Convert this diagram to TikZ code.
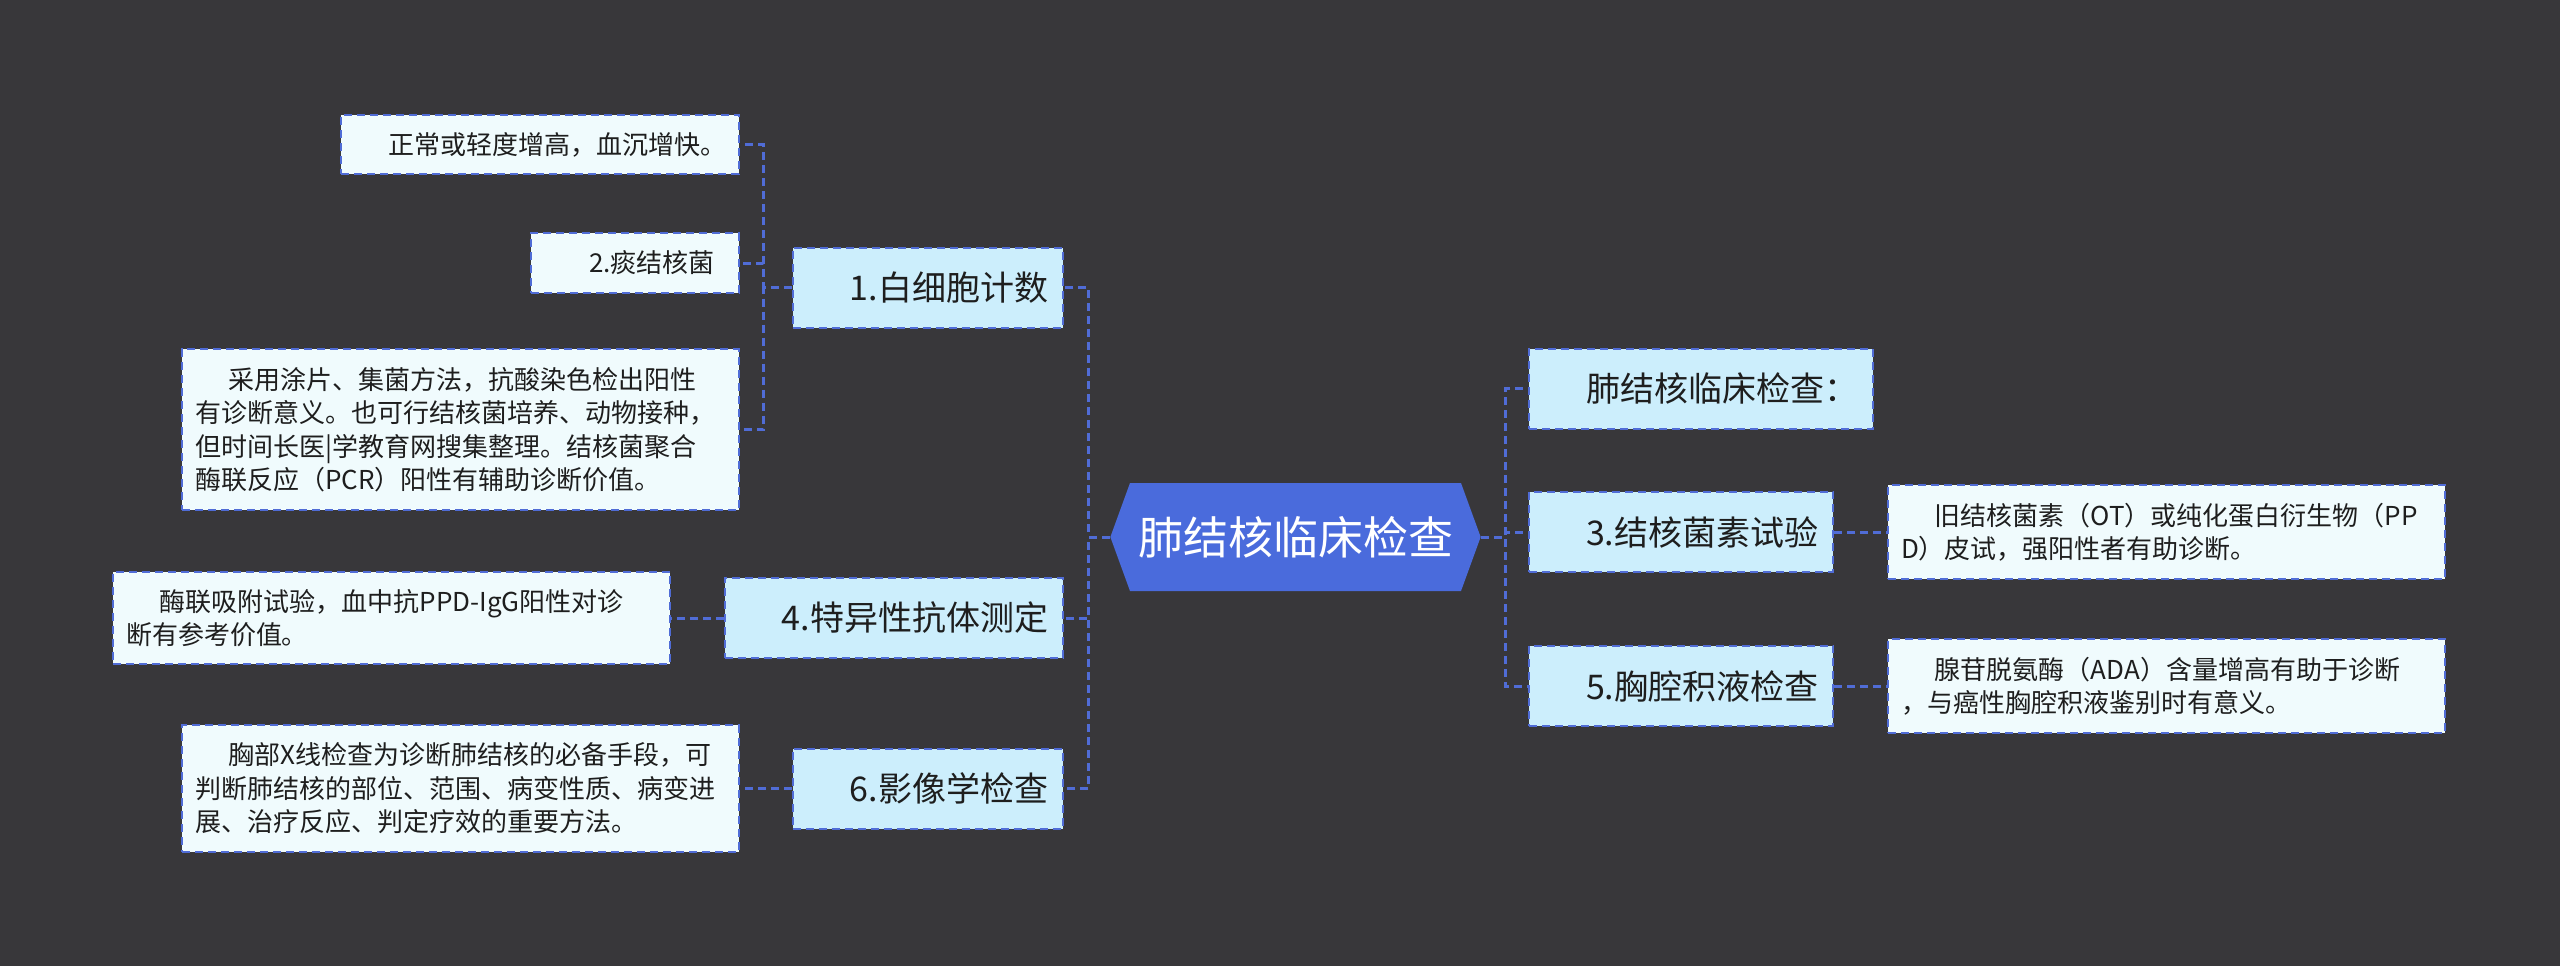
\documentclass[tikz,border=0pt]{standalone}
\usepackage{fontspec}
\setmainfont{Noto Sans CJK SC}
\usetikzlibrary{shapes.symbols}
\definecolor{bgdark}{RGB}{56,55,58}
\definecolor{hubblue}{RGB}{74,107,220}
\definecolor{linkblue}{RGB}{80,108,214}
\definecolor{topicfill}{RGB}{204,238,252}
\definecolor{notefill}{RGB}{240,251,253}
\definecolor{inkdark}{RGB}{30,30,30}

\begin{document}
\begin{tikzpicture}[x=0.5pt,y=-0.5pt,
  hub/.style={shape=signal, signal to=west and east, signal pointer angle=140,
    fill=hubblue, text=white, font=\fontsize{22.5pt}{26pt}\selectfont,
    minimum height=54pt, inner xsep=4pt},
  topic/.style={draw=linkblue, fill=topicfill, line width=1pt, dash pattern=on 4pt off 2.5pt,
    text=inkdark, font=\fontsize{17pt}{20pt}\selectfont, minimum height=40pt,
    inner ysep=0pt, inner xsep=7.5pt, execute at begin node=\hspace*{21pt}},
  note/.style={draw=linkblue, fill=notefill, line width=1pt, dash pattern=on 4pt off 2.5pt,
    text=inkdark, font=\fontsize{13pt}{16.75pt}\selectfont, align=left,
    inner ysep=8.75pt, inner xsep=6.5pt, execute at begin node=\hspace*{1.3em}},
  wide/.style={text width=265.5pt},
  link/.style={draw=linkblue, line width=1.5pt, dash pattern=on 4pt off 2.5pt}]
  \fill[bgdark] (0,0) rectangle (2560,966);
  \useasboundingbox (0,0) rectangle (2560,966);

  \node[hub] (hub) at (1295.5,537) {肺结核临床检查};

  % right side
  \node[topic, anchor=west] (R0) at (1528,388.5) {肺结核临床检查：};
  \node[topic, anchor=west] (R3) at (1528,532) {3.结核菌素试验};
  \node[topic, anchor=west] (R5) at (1528,686) {5.胸腔积液检查};
  \node[note, wide, anchor=west] (n3) at (1887,532)
    {旧结核菌素（OT）或纯化蛋白衍生物（PP\\D）皮试，强阳性者有助诊断。};
  \node[note, wide, anchor=west] (n5) at (1887,686)
    {腺苷脱氨酶（ADA）含量增高有助于诊断\\，与癌性胸腔积液鉴别时有意义。};

  % left side
  \node[topic, anchor=east] (L1) at (1064,287.5) {1.白细胞计数};
  \node[topic, anchor=east] (L4) at (1064,618) {4.特异性抗体测定};
  \node[topic, anchor=east] (L6) at (1064,788.5) {6.影像学检查};
  \node[note, anchor=east] (na) at (740,144.5) {正常或轻度增高，血沉增快。};
  \node[note, anchor=east, minimum width=104pt] (nb) at (740,263) {2.痰结核菌};
  \node[note, wide, anchor=east] (nc) at (740,429.5)
    {采用涂片、集菌方法，抗酸染色检出阳性\\有诊断意义。也可行结核菌培养、动物接种，\\但时间长医|学教育网搜集整理。结核菌聚合\\酶联反应（PCR）阳性有辅助诊断价值。};
  \node[note, wide, anchor=east] (n4) at (671,618)
    {酶联吸附试验，血中抗PPD-IgG阳性对诊\\断有参考价值。};
  \node[note, wide, anchor=east] (n6) at (740,788.5)
    {胸部X线检查为诊断肺结核的必备手段，可\\判断肺结核的部位、范围、病变性质、病变进\\展、治疗反应、判定疗效的重要方法。};

  % connectors
  \foreach \t in {L1,L4,L6}
    \draw[link] (hub.west) -- ++(-21,0) |- (\t.east);
  \foreach \t in {R0,R3,R5}
    \draw[link] (hub.east) -- ++(24,0) |- (\t.west);
  \foreach \t in {na,nb,nc}
    \draw[link] (L1.west) -- ++(-28,0) |- (\t.east);
  \draw[link] (L4.west) -- (n4.east);
  \draw[link] (L6.west) -- (n6.east);
  \draw[link] (R3.east) -- (n3.west);
  \draw[link] (R5.east) -- (n5.west);
\end{tikzpicture}
\end{document}
